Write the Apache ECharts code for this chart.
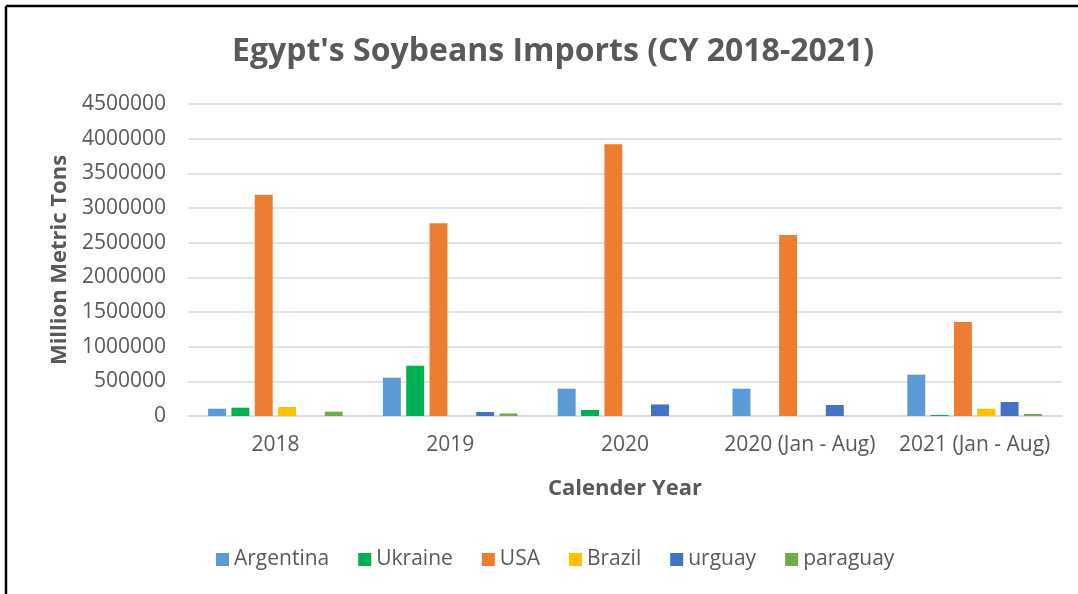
<!DOCTYPE html>
<html>
<head>
<meta charset="utf-8">
<script src="https://cdn.jsdelivr.net/npm/echarts@6/dist/echarts.min.js"></script>
<style>
html,body{margin:0;padding:0;background:#fff;}
#chart{width:1078px;height:594px;}
</style>
</head>
<body>
<div id="chart"></div>
<script>
var categories = ['2018', '2019', '2020', '2020 (Jan - Aug)', '2021 (Jan - Aug)'];
var seriesNames = ['Argentina', 'Ukraine', 'USA', 'Brazil', 'urguay', 'paraguay'];
var argentina = [105000, 552000, 394000, 394000, 596000];
var ukraine   = [120000, 725000, 87000, 0, 15000];
var usa       = [3190000, 2780000, 3920000, 2610000, 1356000];
var brazil    = [130000, 0, 0, 0, 105000];
var urguay    = [0, 58000, 167000, 159000, 202000];
var paraguay  = [62000, 37000, 0, 0, 29000];
var yTicks = { min: 0, max: 4500000, interval: 500000 };
var colors = ['#5B9BD5', '#00B050', '#ED7D31', '#FFC000', '#4472C4', '#70AD47'];

var values = [argentina, ukraine, usa, brazil, urguay, paraguay];
var font = '"Open Sans", "Noto Sans", sans-serif';
var chart = echarts.init(document.getElementById('chart'));
chart.setOption({
  animation: false,
  color: colors,
  title: {
    text: "Egypt's Soybeans Imports (CY 2018-2021)",
    left: 227,
    top: 31,
    textStyle: { fontFamily: font, fontSize: 32, fontWeight: 'bold', color: '#595959' }
  },
  legend: {
    data: seriesNames,
    bottom: 19,
    left: 211,
    itemWidth: 13,
    itemHeight: 13,
    itemGap: 29,
    icon: 'rect',
    textStyle: { fontFamily: font, fontSize: 21, color: '#595959' }
  },
  grid: { left: 188, right: 16, top: 104, bottom: 178 },
  xAxis: {
    type: 'category',
    data: categories,
    name: 'Calender Year',
    nameLocation: 'middle',
    nameGap: 62,
    nameTextStyle: { fontFamily: font, fontSize: 22, fontWeight: 'bold', color: '#595959' },
    axisLine: { show: true, lineStyle: { color: '#D9D9D9', width: 1.5 } },
    axisTick: { show: false },
    axisLabel: { fontFamily: font, fontSize: 21, color: '#595959', margin: 19, interval: 0 }
  },
  yAxis: {
    type: 'value',
    min: yTicks.min,
    max: yTicks.max,
    interval: yTicks.interval,
    name: 'Million Metric Tons',
    nameLocation: 'middle',
    nameGap: 115,
    nameTextStyle: { fontFamily: font, fontSize: 22, fontWeight: 'bold', color: '#595959' },
    axisLine: { show: false },
    axisTick: { show: false },
    splitLine: { lineStyle: { color: '#D9D9D9', width: 1.5 } },
    axisLabel: { fontFamily: font, fontSize: 21, color: '#595959', margin: 22, formatter: function (v) { return String(v); } }
  },
  series: seriesNames.map(function (n, i) {
    return {
      name: n,
      type: 'bar',
      data: values[i],
      barGap: '30%',
      barCategoryGap: '23%'
    };
  }),
  graphic: [
    { type: 'line', shape: { x1: 6, y1: 6, x2: 1078, y2: 6 }, style: { stroke: '#000', lineWidth: 2.5 } },
    { type: 'line', shape: { x1: 6, y1: 6, x2: 6, y2: 594 }, style: { stroke: '#000', lineWidth: 2.5 } }
  ]
});
</script>
</body>
</html>
